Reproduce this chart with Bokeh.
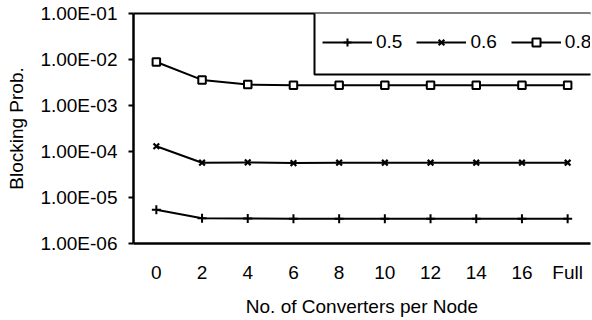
from bokeh.plotting import figure
from bokeh.models import (FactorRange, FixedTicker, LogAxis, Legend, LegendItem,
                          ColumnDataSource, BoxAnnotation)
from bokeh.embed import file_html
from bokeh.resources import INLINE

# ---- data ----
categories = ["0", "2", "4", "6", "8", "10", "12", "14", "16", "Full"]
load_05 = [5.4e-6, 3.55e-6, 3.5e-6, 3.45e-6, 3.45e-6, 3.45e-6, 3.45e-6, 3.45e-6, 3.45e-6, 3.45e-6]
load_06 = [1.3e-4, 5.7e-5, 5.8e-5, 5.6e-5, 5.7e-5, 5.7e-5, 5.7e-5, 5.7e-5, 5.7e-5, 5.7e-5]
load_08 = [8.8e-3, 3.6e-3, 2.85e-3, 2.77e-3, 2.75e-3, 2.75e-3, 2.75e-3, 2.75e-3, 2.75e-3, 2.75e-3]
series_names = ["0.5", "0.6", "0.8"]
y_ticks = [1e-6, 1e-5, 1e-4, 1e-3, 1e-2, 1e-1]
y_tick_labels = ["1.00E-06", "1.00E-05", "1.00E-04", "1.00E-03", "1.00E-02", "1.00E-01"]

FONT = "Liberation Sans"
FS = "19px"

p = figure(width=592, height=320, x_range=FactorRange(*categories),
           y_axis_type="log", y_range=(1e-6, 1e-1),
           output_backend="svg", toolbar_location=None,
           min_border_left=133, min_border_right=2, min_border_top=13,
           min_border_bottom=77)
p.outline_line_color = None
p.xgrid.visible = False
p.ygrid.visible = False
p.background_fill_color = "white"

# y axis
ya = p.yaxis[0]
ya.ticker = FixedTicker(ticks=y_ticks, minor_ticks=[])
ya.major_label_overrides = dict(zip(y_ticks, y_tick_labels))
ya.axis_label = "Blocking Prob."
ya.axis_line_width = 2.5
ya.axis_line_color = "black"
ya.major_tick_line_width = 2
ya.major_tick_out = 5
ya.major_tick_in = 0
ya.minor_tick_line_color = None
ya.major_label_standoff = 11
ya.major_label_text_font = FONT
ya.major_label_text_font_size = FS
ya.major_label_text_color = "black"
ya.axis_label_text_font = FONT
ya.axis_label_text_font_size = FS
ya.axis_label_text_font_style = "normal"
ya.axis_label_text_color = "black"
ya.axis_label_standoff = 10

# x axis
xa = p.xaxis[0]
xa.axis_label = "No. of Converters per Node"
xa.axis_line_width = 2.5
xa.axis_line_color = "black"
xa.major_tick_line_color = None
xa.major_tick_out = 0
xa.major_tick_in = 0
xa.major_label_standoff = 18
xa.major_label_text_font = FONT
xa.major_label_text_font_size = FS
xa.major_label_text_color = "black"
xa.axis_label_text_font = FONT
xa.axis_label_text_font_size = FS
xa.axis_label_text_font_style = "normal"
xa.axis_label_text_color = "black"
xa.axis_label_standoff = 10

# top border line
top = LogAxis(ticker=FixedTicker(ticks=[]), axis_line_width=2, axis_line_color="black",
              major_tick_out=0, major_tick_in=0, minor_tick_out=0, minor_tick_in=0,
              major_label_standoff=0, major_label_text_font_size="0px")
p.add_layout(top, "above")

src = ColumnDataSource(dict(x=categories, a=load_05, b=load_06, c=load_08))

l1 = p.line("x", "a", source=src, line_color="black", line_width=2)
m1 = p.scatter("x", "a", source=src, marker="cross", size=9, line_color="black", line_width=2)
l2 = p.line("x", "b", source=src, line_color="black", line_width=2)
m2 = p.scatter("x", "b", source=src, marker="x", size=8, line_color="black", line_width=2.2)
l3 = p.line("x", "c", source=src, line_color="black", line_width=2)
m3 = p.scatter("x", "c", source=src, marker="square", size=7.5, line_color="black",
               fill_color="white", line_width=2)

# legend frame
frame_box = BoxAnnotation(left=314, right=620, top=10, bottom=74,
                          left_units="canvas", right_units="canvas",
                          top_units="canvas", bottom_units="canvas",
                          fill_color="white", fill_alpha=1,
                          line_color="black", line_width=2, line_alpha=1,
                          level="annotation", editable=False)
p.add_layout(frame_box)

legend = Legend(items=[
    LegendItem(label=series_names[0], renderers=[l1, m1]),
    LegendItem(label=series_names[1], renderers=[l2, m2]),
    LegendItem(label=series_names[2], renderers=[l3, m3]),
], orientation="horizontal", location=(189, 190),
    glyph_width=50, glyph_height=20, label_height=20, label_standoff=4, spacing=14,
    padding=0, border_line_color=None, background_fill_alpha=0,
    label_text_font=FONT, label_text_font_size=FS, label_text_color="black",
    margin=0)
p.add_layout(legend, "center")

open("out.html", "w").write(file_html(p, INLINE))
